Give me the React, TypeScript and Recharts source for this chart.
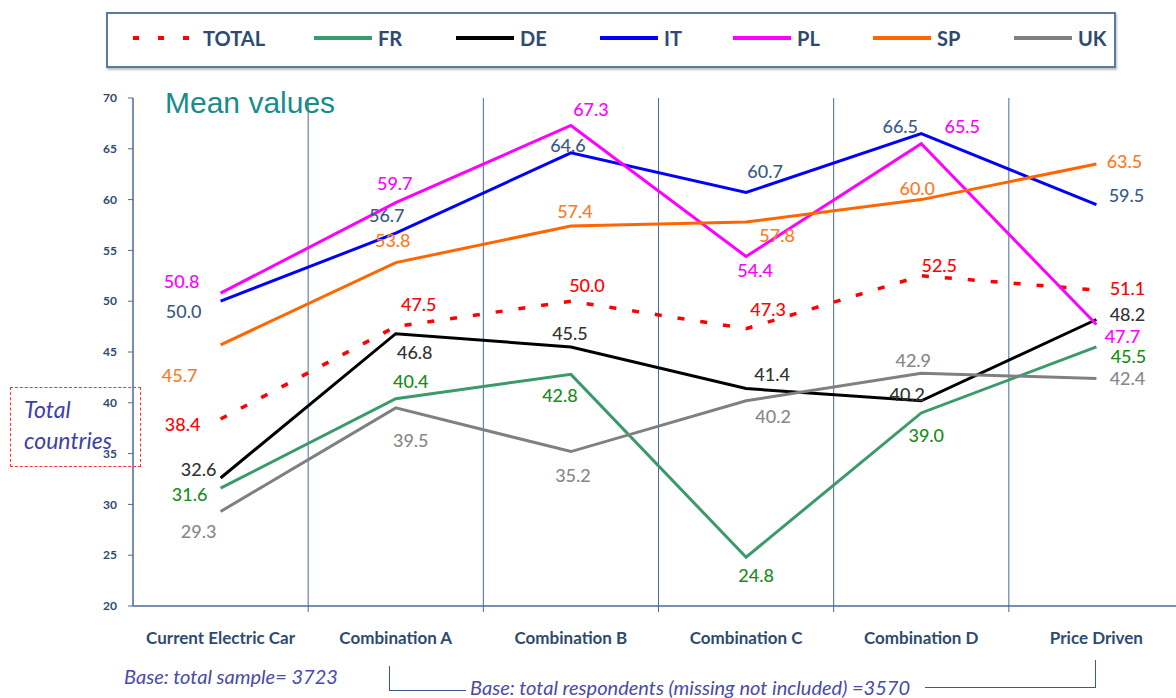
import { LineChart, Line, XAxis, YAxis, ReferenceLine, LabelList } from 'recharts';

const categories = ['Current Electric Car', 'Combination A', 'Combination B', 'Combination C', 'Combination D', 'Price Driven'];
const yTicks = [20, 25, 30, 35, 40, 45, 50, 55, 60, 65, 70];

const total = [38.4, 47.5, 50.0, 47.3, 52.5, 51.1];
const fr = [31.6, 40.4, 42.8, 24.8, 39.0, 45.5];
const de = [32.6, 46.8, 45.5, 41.4, 40.2, 48.2];
const it = [50.0, 56.7, 64.6, 60.7, 66.5, 59.5];
const pl = [50.8, 59.7, 67.3, 54.4, 65.5, 47.7];
const sp = [45.7, 53.8, 57.4, 57.8, 60.0, 63.5];
const uk = [29.3, 39.5, 35.2, 40.2, 42.9, 42.4];

// label nudges (dx, dy) per point, picked by eye
const offsets: Record<string, number[][]> = {
  TOTAL: [[-38, 5], [23, -23], [16, -16], [22, -20], [18, -11], [31, -2]],
  FR: [[-31, 6], [15, -18], [-11, 21], [10, 18], [5, 22], [32, 9]],
  DE: [[-22, -9], [19, 18], [-1, -14], [26, -15], [-14, -7], [31, -5]],
  IT: [[-37, 10], [-9, -18], [-3, -8], [19, -21], [-21, -8], [30, -10]],
  PL: [[-39, -12], [-1, -20], [20, -16], [9, 14], [41, -18], [26, 11]],
  SP: [[-41, 30], [-3, -23], [4, -15], [31, 13], [-4, -12], [28, -3]],
  UK: [[-22, 19], [15, 32], [2, 23], [27, 15], [-8, -13], [31, 0]],
};

const series = [
  { key: 'TOTAL', values: total, color: '#ff0000', text: '#ff0000', dashed: true },
  { key: 'FR', values: fr, color: '#3a9a6a', text: '#1a8c1a' },
  { key: 'DE', values: de, color: '#000000', text: '#333333' },
  { key: 'IT', values: it, color: '#0000ff', text: '#3b5a85' },
  { key: 'PL', values: pl, color: '#ff00ff', text: '#ff00ff' },
  { key: 'SP', values: sp, color: '#ff6600', text: '#ff7a1f' },
  { key: 'UK', values: uk, color: '#808080', text: '#888888' },
];

const rows = categories.map((c, i) => {
  const r: any = { x: i + 0.5, name: c };
  series.forEach((s) => (r[s.key] = s.values[i]));
  return r;
});

const axisBlue = '#4a6a9a';
const tickBlue = '#2f4a70';

const XTick = (props: any) => {
  const { x, y, payload } = props;
  const v = payload.value;
  if (Number.isInteger(v)) {
    if (v <= 0 || v >= 6) return <g />;
    return <line x1={x} x2={x} y1={y} y2={y + 6} stroke={axisBlue} strokeWidth={1} />;
  }
  return (
    <text x={x} y={y + 31} textAnchor="middle" dominantBaseline="central" fill={tickBlue}
      style={{ fontFamily: 'Lato, sans-serif', fontWeight: 700, fontSize: 17 }}>
      {categories[v - 0.5]}
    </text>
  );
};

const makeLabel = (key: string, color: string) => (props: any) => {
  const { x, y, index, value } = props;
  const [dx, dy] = offsets[key][index];
  return (
    <text x={x + dx} y={y + dy} textAnchor="middle" dominantBaseline="central" fill={color}
      style={{ fontFamily: 'Lato, sans-serif', fontSize: 18, fontWeight: 500 }}>
      {Number(value).toFixed(1)}
    </text>
  );
};

function LegendBox() {
  const lefts = [23, 204, 346, 490, 623, 763, 904];
  return (
    <div style={{
      position: 'absolute', left: 106, top: 12, width: 1006, height: 52,
      border: '2px solid #5a7aa0', boxShadow: '1px 2px 2px rgba(0,0,0,0.25)', background: '#fff',
    }}>
      {series.map((s, i) => (
        <div key={s.key} style={{ position: 'absolute', left: lefts[i], top: 12, display: 'flex', alignItems: 'center' }}>
          <svg width={62} height={10}>
            <line x1={2} x2={60} y1={5} y2={5} stroke={s.color} strokeWidth={4}
              strokeDasharray={s.dashed ? '6 19' : undefined} />
          </svg>
          <span style={{
            marginLeft: s.dashed ? 10 : 4, color: tickBlue, fontFamily: 'Lato, sans-serif',
            fontWeight: 700, fontSize: 20,
          }}>{s.key}</span>
        </div>
      ))}
    </div>
  );
}

export default function App() {
  const note = { fontFamily: 'Lato, sans-serif', fontStyle: 'italic', fontSize: 20, color: '#4a4aa8', position: 'absolute' as const };
  return (
    <div style={{ position: 'absolute', left: 0, top: 0, width: 1176, height: 698, overflow: 'hidden', background: '#fff' }}>
      <LineChart width={1190} height={698} data={rows} margin={{ top: 98, right: 6, bottom: 42, left: 93 }}>
        <XAxis dataKey="x" type="number" domain={[0, 6]} ticks={[0, 0.5, 1, 1.5, 2, 2.5, 3, 3.5, 4, 4.5, 5, 5.5, 6]}
          interval={0} tickSize={0} tickMargin={0} tickLine={false} tick={<XTick />}
          axisLine={{ stroke: axisBlue, strokeWidth: 1.5 }} height={50} allowDataOverflow />
        <YAxis type="number" domain={[20, 70]} ticks={yTicks} interval={0} width={40} tickSize={5} tickMargin={11}
          axisLine={{ stroke: axisBlue, strokeWidth: 1.5 }} tickLine={{ stroke: axisBlue }}
          tick={{ fill: tickBlue, fontSize: 12, fontWeight: 700, fontFamily: 'Lato, sans-serif' }} />
        {[1, 2, 3, 4, 5].map((v) => (
          <ReferenceLine key={v} x={v} stroke={axisBlue} strokeWidth={1} />
        ))}
        {series.map((s) => (
          <Line key={s.key} dataKey={s.key} type="linear" stroke={s.color}
            strokeWidth={s.dashed ? 3.5 : 3} strokeDasharray={s.dashed ? '7 16' : undefined}
            dot={false} activeDot={false} isAnimationActive={false}>
            <LabelList dataKey={s.key} content={makeLabel(s.key, s.text)} />
          </Line>
        ))}
      </LineChart>
      <LegendBox />
      <div style={{ position: 'absolute', left: 165, top: 86, color: '#178c8c', fontFamily: 'Liberation Sans, Arial, sans-serif', fontSize: 30 }}>
        Mean values
      </div>
      <div style={{
        position: 'absolute', left: 10, top: 387, width: 129, height: 78, border: '1px dashed #ff3030',
        color: '#4040a8', fontFamily: 'Lato, sans-serif', fontStyle: 'italic', fontSize: 23, lineHeight: '31px',
      }}>
        <div style={{ paddingLeft: 13, paddingTop: 6 }}>Total</div>
        <div style={{ paddingLeft: 13 }}>countries</div>
      </div>
      <div style={{ ...note, left: 124, top: 664 }}>Base: total sample= 3723</div>
      <div style={{ ...note, left: 470, top: 675 }}>Base: total respondents (missing not included) =3570</div>
      <div style={{ position: 'absolute', left: 389, top: 666, width: 76, height: 24, borderLeft: '1.5px solid #3a5a8a', borderBottom: '1.5px solid #3a5a8a' }} />
      <div style={{ position: 'absolute', left: 925, top: 660, width: 170, height: 27, borderRight: '1.5px solid #3a5a8a', borderBottom: '1.5px solid #3a5a8a' }} />
    </div>
  );
}
